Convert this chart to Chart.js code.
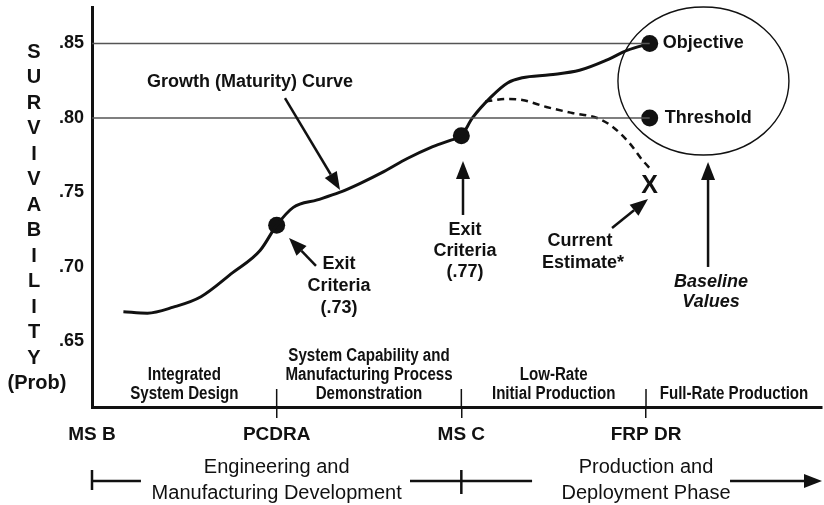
<!DOCTYPE html>
<html>
<head>
<meta charset="utf-8">
<script src="https://cdn.jsdelivr.net/npm/chart.js@4.4.0/dist/chart.umd.min.js"></script>
<style>
  html, body { margin: 0; padding: 0; background: #fff; }
</style>
</head>
<body>
<canvas id="chart" width="824" height="505"></canvas>
<script>
// x axis: program milestones (0 = MS B, 1 = PCDRA, ...)
const milestones = ['MS B', 'PCDRA', 'MS C', 'FRP DR']
const phases = [
  ['Integrated', 'System Design'],
  ['System Capability and', 'Manufacturing Process', 'Demonstration'],
  ['Low-Rate', 'Initial Production'],
  ['Full-Rate Production'],
]
const programPhases = [
  ['Engineering and', 'Manufacturing Development'],
  ['Production and', 'Deployment Phase'],
]
const yTicks = [0.65, 0.70, 0.75, 0.80, 0.85]
const yTitle = ['S', 'U', 'R', 'V', 'I', 'V', 'A', 'B', 'I', 'L', 'I', 'T', 'Y']

// growth (maturity) curve
const growthX = [0.17, 0.30, 0.44, 0.59, 0.76, 0.91, 1.00, 1.09, 1.22, 1.34, 1.45, 1.58, 1.71, 1.83, 1.94, 2.00, 2.06, 2.16, 2.25, 2.33, 2.48, 2.64, 2.79, 2.90, 3.02]
const growthY = [0.670, 0.669, 0.673, 0.680, 0.696, 0.711, 0.728, 0.740, 0.745, 0.750, 0.756, 0.764, 0.773, 0.780, 0.785, 0.788, 0.800, 0.814, 0.8235, 0.827, 0.829, 0.832, 0.839, 0.8455, 0.850]

// current estimate (dashed)
const estimateX = [2.13, 2.25, 2.33, 2.46, 2.60, 2.735, 2.82, 2.91, 2.98, 3.03]
const estimateY = [0.811, 0.8128, 0.8121, 0.8074, 0.8034, 0.800, 0.794, 0.7832, 0.7718, 0.765]
const currentEstimate = { x: 3.02, y: 0.754 }

// exit criteria and baseline values
const exitX = [1, 2]
const exitY = [0.728, 0.788]
const baselineX = 3.02
const objective = 0.85
const threshold = 0.80

const FONT = '"Liberation Sans", Arial, Helvetica, sans-serif'
const INK = '#111'

function arrow(ctx, x1, y1, x2, y2) {
  const head = 18, w = 7
  const a = Math.atan2(y2 - y1, x2 - x1)
  const bx = x2 - head * Math.cos(a), by = y2 - head * Math.sin(a)
  ctx.beginPath()
  ctx.moveTo(x1, y1)
  ctx.lineTo(bx, by)
  ctx.stroke()
  ctx.beginPath()
  ctx.moveTo(x2, y2)
  ctx.lineTo(bx + w * Math.sin(a), by - w * Math.cos(a))
  ctx.lineTo(bx - w * Math.sin(a), by + w * Math.cos(a))
  ctx.closePath()
  ctx.fill()
}

function label(ctx, str, x, y, font, align = 'center', squeeze = 1) {
  ctx.save()
  ctx.font = font
  ctx.textAlign = align
  ctx.textBaseline = 'middle'
  ctx.translate(x, y)
  ctx.scale(squeeze, 1)
  ctx.fillText(str, 0, 0)
  ctx.restore()
}

// everything that is not a dataset: titles, phases, callouts, ellipse
const decorations = {
  id: 'decorations',
  afterDraw(chart) {
    const ctx = chart.ctx
    const sx = chart.scales.x, sy = chart.scales.y
    const area = chart.chartArea
    const X = v => sx.getPixelForValue(v)
    const Y = v => sy.getPixelForValue(v)
    const bold = s => `bold ${s}px ${FONT}`

    ctx.save()
    ctx.fillStyle = INK
    ctx.strokeStyle = INK
    ctx.lineWidth = 2.5

    // stacked y title
    yTitle.forEach((ch, i) => label(ctx, ch, 34, 52 + i * 25.5, bold(20)))
    label(ctx, '(Prob)', 37, 383, bold(20))

    // milestone ticks above the axis
    ctx.lineWidth = 1.5
    for (let i = 1; i < milestones.length; i++) {
      ctx.beginPath()
      ctx.moveTo(X(i), area.bottom)
      ctx.lineTo(X(i), area.bottom - 18)
      ctx.stroke()
    }

    // phase names above the axis (condensed)
    phases.forEach((lines, i) => {
      const cx = i < 3 ? X(i + 0.5) : X((3 + sx.max) / 2)
      lines.forEach((t, j) => {
        const y = area.bottom - 13 - (lines.length - 1 - j) * 19
        label(ctx, t, cx, y, bold(18), 'center', 0.84)
      })
    })

    // program phase arrow under the axis
    const ay = area.bottom + 74
    ctx.lineWidth = 2.5
    ctx.beginPath()
    ctx.moveTo(X(0), ay - 11); ctx.lineTo(X(0), ay + 9)
    ctx.moveTo(X(0), ay); ctx.lineTo(X(0.265), ay)
    ctx.moveTo(X(1.722), ay); ctx.lineTo(X(2.383), ay)
    ctx.moveTo(X(2), ay - 11); ctx.lineTo(X(2), ay + 13)
    ctx.stroke()
    arrow(ctx, X(3.455), ay, X(sx.max), ay)
    programPhases.forEach((lines, i) => {
      lines.forEach((t, j) => label(ctx, t, X(1 + 2 * i), area.bottom + 60 + j * 26, `20px ${FONT}`))
    })

    // growth curve callout
    label(ctx, 'Growth (Maturity) Curve', X(0.856), Y(0.8242), bold(18))
    arrow(ctx, X(1.045), Y(0.8134), X(1.343), Y(0.7517))

    // exit criteria callouts
    ;['Exit', 'Criteria', '(.73)'].forEach((t, j) => label(ctx, t, X(1.337), Y(0.702) + j * 22, bold(18)))
    arrow(ctx, X(1.213), Y(0.7007), X(1.067), Y(0.7195))
    ;['Exit', 'Criteria', '(.77)'].forEach((t, j) => label(ctx, t, X(2.02), Y(0.7248) + j * 21, bold(18)))
    arrow(ctx, X(2.009), Y(0.7349), X(2.009), Y(0.7711))

    // current estimate
    label(ctx, 'X', X(currentEstimate.x), Y(currentEstimate.y), bold(25))
    label(ctx, 'Current', X(2.643), Y(0.7175), bold(18))
    label(ctx, 'Estimate*', X(2.659), Y(0.7027), bold(18))
    arrow(ctx, X(2.816), Y(0.7262), X(3.011), Y(0.7457))

    // baseline values
    label(ctx, 'Objective', X(baselineX) + 13, Y(objective), bold(18), 'left')
    label(ctx, 'Threshold', X(baselineX) + 15, Y(threshold), bold(18), 'left')
    ctx.lineWidth = 1.4
    ctx.beginPath()
    ctx.ellipse(X(3.311), Y(0.8248), 85.5, 74, 0, 0, Math.PI * 2)
    ctx.stroke()
    ctx.lineWidth = 2.5
    arrow(ctx, X(3.336), Y(0.70), X(3.336), Y(0.7705))
    label(ctx, 'Baseline', X(3.352), Y(0.690), `italic bold 18px ${FONT}`)
    label(ctx, 'Values', X(3.352), Y(0.6765), `italic bold 18px ${FONT}`)

    ctx.restore()
  },
}

const toPoints = (xs, ys) => xs.map((x, i) => ({ x, y: ys[i] }))

new Chart(document.getElementById('chart'), {
  type: 'scatter',
  data: {
    datasets: [
      {
        data: [{ x: 0, y: objective }, { x: baselineX, y: objective }],
        showLine: true, borderColor: '#555', borderWidth: 1.3, pointRadius: 0,
      },
      {
        data: [{ x: 0, y: threshold }, { x: baselineX, y: threshold }],
        showLine: true, borderColor: '#555', borderWidth: 1.3, pointRadius: 0,
      },
      {
        data: toPoints(estimateX, estimateY),
        showLine: true, borderColor: INK, borderWidth: 2.5, borderDash: [7, 5],
        cubicInterpolationMode: 'monotone', pointRadius: 0,
      },
      {
        data: toPoints(growthX, growthY),
        showLine: true, borderColor: INK, borderWidth: 3,
        cubicInterpolationMode: 'monotone', pointRadius: 0,
      },
      {
        data: toPoints(exitX, exitY).concat([{ x: baselineX, y: objective }, { x: baselineX, y: threshold }]),
        pointRadius: 8.5, backgroundColor: INK, borderColor: INK, borderWidth: 0,
      },
    ],
  },
  options: {
    responsive: false,
    animation: false,
    layout: { autoPadding: false, padding: { top: 7, right: 2, left: 0, bottom: 0 } },
    plugins: { legend: { display: false }, tooltip: { enabled: false } },
    scales: {
      x: {
        type: 'linear',
        min: 0,
        max: 3.953,
        afterFit: (scale) => {
          scale.height = 98
          scale.paddingLeft = 0
          scale.paddingRight = 0
        },
        afterBuildTicks: (axis) => { axis.ticks = milestones.map((m, i) => ({ value: i })) },
        border: { display: true, color: INK, width: 3 },
        grid: {
          display: true, drawOnChartArea: false, drawTicks: true, tickLength: 11, lineWidth: 1.5,
          color: (c) => (c.tick && c.tick.value === 0 ? 'rgba(0,0,0,0)' : INK),
        },
        ticks: {
          autoSkip: false, maxRotation: 0, padding: 5, color: INK,
          font: { family: FONT, size: 19, weight: 'bold' },
          callback: (v) => milestones[v],
        },
      },
      y: {
        type: 'linear',
        min: 0.606,
        max: 0.8745,
        afterFit: (scale) => {
          scale.width = 92
          scale.paddingTop = 0
          scale.paddingBottom = 0
        },
        afterBuildTicks: (axis) => { axis.ticks = yTicks.map((v) => ({ value: v })) },
        border: { display: true, color: INK, width: 3 },
        grid: { display: false, drawTicks: false },
        ticks: {
          padding: 8, color: INK,
          font: { family: FONT, size: 18, weight: 'bold' },
          callback: (v) => v.toFixed(2).replace(/^0/, ''),
        },
      },
    },
  },
  plugins: [decorations],
})
</script>
</body>
</html>
